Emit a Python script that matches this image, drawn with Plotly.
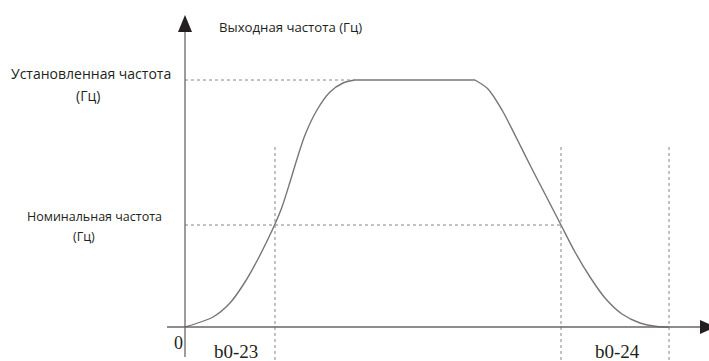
import plotly.graph_objects as go

# values (x: time units, y: frequency units)
time_rise = [0, 28, 45, 60, 73, 83, 90, 97, 105, 112, 120, 132, 145, 158, 170]
freq_rise = [0, 10, 24, 45, 68, 88, 103, 120, 145, 168, 192, 217, 235, 244, 247]
time_flat = [170, 290]
freq_flat = [247, 247]
time_fall = [290, 303, 317, 332, 346, 360, 376, 390, 405, 420, 437, 455, 472, 484]
freq_fall = [247, 238, 217, 188, 160, 133, 102, 75, 50, 29, 13, 4, 0.5, 0]

set_freq = 247
nominal_freq = 102
t_b023 = 90
t_cross = 376
t_b024 = 484

LINE = "#7a7573"
DASH = "#8a8584"
INK = "#231f20"

fig = go.Figure()
for xs, ys in [(time_rise, freq_rise), (time_flat, freq_flat), (time_fall, freq_fall)]:
    fig.add_trace(go.Scatter(
        x=xs, y=ys, mode="lines",
        line=dict(color=LINE, width=1.4, shape="spline", smoothing=0.8),
        hoverinfo="skip",
    ))

shapes = []
dash = dict(color=DASH, width=1, dash="3px,3px")
shapes.append(dict(type="line", x0=0, x1=time_flat[0], y0=set_freq, y1=set_freq, line=dash))
shapes.append(dict(type="line", x0=0, x1=t_cross, y0=nominal_freq, y1=nominal_freq, line=dash))
for t in [t_b023, t_cross, t_b024]:
    shapes.append(dict(type="line", x0=t, x1=t, y0=180, y1=-40, line=dash))

# axes
shapes.append(dict(type="line", x0=0, x1=0, y0=-30, y1=300, line=dict(color="#6b6665", width=1.3)))
shapes.append(dict(type="line", x0=-18, x1=516, y0=0, y1=0, line=dict(color="#6b6665", width=1.3)))
shapes.append(dict(type="path", path="M -7,295 L 7,295 L 0,312 Z", fillcolor=INK, line=dict(width=0)))
shapes.append(dict(type="path", path="M 515,-7 L 515,7 L 531,0 Z", fillcolor=INK, line=dict(width=0)))

sans = "Open Sans, sans-serif"
serif = "Liberation Serif, Times New Roman, serif"
ann = [
    dict(x=32, y=300, text="Выходная частота (Гц)", xanchor="left", font=dict(family=sans, size=13.2, color=INK)),
    dict(x=-94, y=254, text="Установленная частота", font=dict(family=sans, size=14, color=INK)),
    dict(x=-97, y=232, text="(Гц)", font=dict(family=sans, size=14, color=INK)),
    dict(x=-91, y=111, text="Номинальная частота", font=dict(family=sans, size=12.5, color=INK)),
    dict(x=-101, y=91, text="(Гц)", font=dict(family=sans, size=12.5, color=INK)),
    dict(x=-7, y=-16, text="0", font=dict(family=serif, size=18, color=INK)),
    dict(x=51, y=-24, text="b0-23", font=dict(family=serif, size=19, color=INK)),
    dict(x=432, y=-24, text="b0-24", font=dict(family=serif, size=19, color=INK)),
]
for a in ann:
    a.update(showarrow=False, xref="x", yref="y")

fig.update_layout(
    width=709, height=361,
    margin=dict(l=0, r=0, t=0, b=0),
    paper_bgcolor="white", plot_bgcolor="white",
    showlegend=False,
    shapes=shapes, annotations=ann,
    xaxis=dict(range=[-185, 524], visible=False, fixedrange=True),
    yaxis=dict(range=[-34, 327], visible=False, fixedrange=True),
)

fig.write_html(
    "out.html",
    config={"displayModeBar": False},
    post_script="document.body.style.margin='0';document.body.style.overflow='hidden';",
)
